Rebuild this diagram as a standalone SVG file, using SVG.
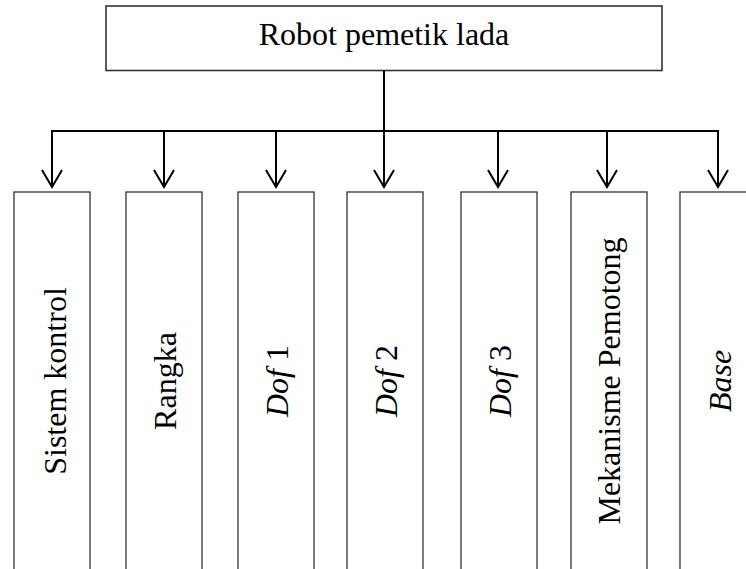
<svg xmlns="http://www.w3.org/2000/svg" width="746" height="569" viewBox="0 0 746 569">
  <style>
    .box { fill: #ffffff; stroke: #333333; stroke-width: 1.3; }
    .root { fill: #ffffff; stroke: #333333; stroke-width: 1.6; }
    .lbl { font-family: "Liberation Serif", "Times New Roman", serif; font-size: 32px; fill: #000000; text-anchor: middle; }
    .it { font-style: italic; }
    .wire { fill: none; stroke: #000000; stroke-width: 2; }
  </style>
  <rect width="746" height="569" fill="#ffffff"/>

  <!-- parent -->
  <g id="robot">
    <rect class="root" x="106" y="6" width="556" height="64.5"/>
    <text class="lbl" x="384" y="45">Robot pemetik lada</text>
  </g>

  <!-- connectors: trunk, bus and open-V arrows -->
  <g id="connectors">
    <path class="wire" d="M384 70.5 V131"/>
    <path class="wire" d="M52 187 V131 H718 V187"/>
    <path class="wire" d="M164 131 V187 M276 131 V187 M384 131 V187 M498 131 V187 M607 131 V187"/>
    <path class="wire" d="M42 170 L52 187 L62 170 M154 170 L164 187 L174 170 M266 170 L276 187 L286 170 M374 170 L384 187 L394 170 M488 170 L498 187 L508 170 M597 170 L607 187 L617 170 M708 170 L718 187 L728 170"/>
  </g>

  <!-- children -->
  <g id="sistem-kontrol">
    <rect class="box" x="14" y="192" width="76" height="400"/>
    <text class="lbl" transform="translate(66 381) rotate(-90)">Sistem kontrol</text>
  </g>
  <g id="rangka">
    <rect class="box" x="126" y="192" width="76" height="400"/>
    <text class="lbl" transform="translate(176 381) rotate(-90)">Rangka</text>
  </g>
  <g id="dof1">
    <rect class="box" x="238" y="192" width="76" height="400"/>
    <text class="lbl" transform="translate(288 381) rotate(-90)"><tspan class="it">Dof</tspan> 1</text>
  </g>
  <g id="dof2">
    <rect class="box" x="347" y="192" width="76" height="400"/>
    <text class="lbl" transform="translate(397 381) rotate(-90)"><tspan class="it">Dof</tspan> 2</text>
  </g>
  <g id="dof3">
    <rect class="box" x="461" y="192" width="76" height="400"/>
    <text class="lbl" transform="translate(511 381) rotate(-90)"><tspan class="it">Dof</tspan> 3</text>
  </g>
  <g id="mekanisme-pemotong">
    <rect class="box" x="571" y="192" width="76" height="400"/>
    <text class="lbl" transform="translate(620 381) rotate(-90)">Mekanisme Pemotong</text>
  </g>
  <g id="base">
    <rect class="box" x="680" y="192" width="76" height="400"/>
    <text class="lbl it" transform="translate(731 381) rotate(-90)">Base</text>
  </g>
</svg>
